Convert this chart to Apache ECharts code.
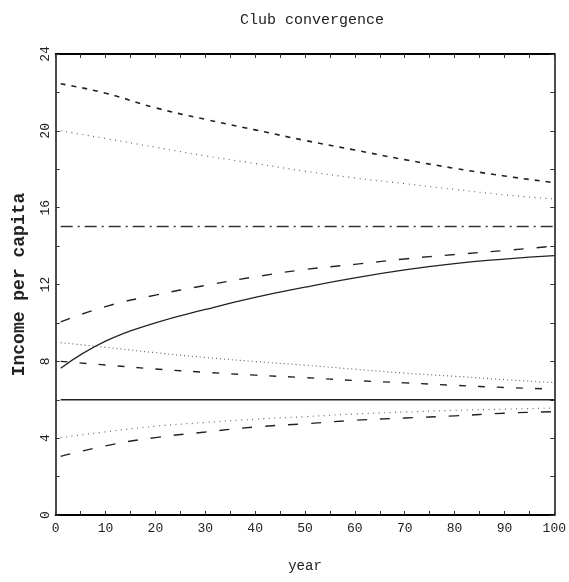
<!DOCTYPE html>
<html>
<head>
<meta charset="utf-8">
<script src="https://cdn.jsdelivr.net/npm/echarts@6/dist/echarts.min.js"></script>
<style>html,body{margin:0;padding:0;background:#fff}#c{width:569px;height:582px}</style>
</head>
<body>
<div id="c"></div>
<script>
var years = [1, 10, 20, 30, 40, 50, 60, 70, 80, 90, 100];
var upperDashed   = [22.45, 21.96, 21.2, 20.6, 20.05, 19.5, 19.0, 18.5, 18.05, 17.65, 17.3];
var upperDotted   = [20.0, 19.6, 19.15, 18.7, 18.3, 17.9, 17.55, 17.25, 16.95, 16.67, 16.45];
var highSteady    = [15.02, 15.02, 15.02, 15.02, 15.02, 15.02, 15.02, 15.02, 15.02, 15.02, 15.02];
var longDashedUp  = [10.05, 10.85, 11.45, 11.95, 12.4, 12.78, 13.05, 13.33, 13.56, 13.77, 14.0];
var solidCurve    = [7.64, 9.05, 10.0, 10.7, 11.33, 11.86, 12.34, 12.76, 13.09, 13.32, 13.5];
var midDotted     = [8.97, 8.73, 8.45, 8.2, 7.99, 7.8, 7.59, 7.39, 7.22, 7.05, 6.89];
var midDashed     = [8.0, 7.81, 7.6, 7.43, 7.28, 7.15, 7.0, 6.88, 6.75, 6.64, 6.55];
var lowSteady     = [6.0, 6.0, 6.0, 6.0, 6.0, 6.0, 6.0, 6.0, 6.0, 6.0, 6.0];
var lowDotted     = [4.03, 4.33, 4.62, 4.82, 4.99, 5.12, 5.26, 5.36, 5.45, 5.51, 5.57];
var longDashedLow = [3.05, 3.6, 4.03, 4.32, 4.58, 4.75, 4.93, 5.05, 5.16, 5.3, 5.38];

function pts(vals){ return years.map(function(y,i){ return [y, vals[i]]; }); }
var FONT = 'Liberation Mono';

function mk(vals, color, width, type, smooth){
  return {type:'line', data: pts(vals), showSymbol:false, smooth: smooth, silent:true,
    xAxisIndex:0, yAxisIndex:0,
    lineStyle:{color:color, width:width, type:type}};
}

var chart = echarts.init(document.getElementById('c'), null, {renderer:'canvas'});
var axisLineX = {show:true, onZero:false, lineStyle:{color:'#000', width:2}};
var axisLineY = {show:true, onZero:false, lineStyle:{color:'#111', width:1.5}};
var tick = {show:true, inside:true, length:4, lineStyle:{color:'#333', width:1}};
chart.setOption({
  backgroundColor:'#fff',
  animation:false,
  title:{text:'Club convergence', left:307, top:8, textAlign:'center',
    textStyle:{fontFamily:FONT, fontSize:15, fontWeight:'normal', color:'#222'}},
  grid:{left:55.7, right:13, top:54, bottom:67},
  xAxis:[
    {type:'value', min:0, max:100, interval:5, position:'bottom',
     axisLine:axisLineX, axisTick:tick, splitLine:{show:false},
     axisLabel:{fontFamily:FONT, fontSize:13, color:'#222', margin:7,
       formatter:function(v){ return v%10===0 ? String(v) : ''; }},
     name:'year', nameLocation:'middle', nameGap:44,
     nameTextStyle:{fontFamily:FONT, fontSize:14, color:'#222'}},
    {type:'value', min:0, max:100, interval:5, position:'top',
     axisLine:axisLineX, axisTick:tick, axisLabel:{show:false}, splitLine:{show:false}}
  ],
  yAxis:[
    {type:'value', min:0, max:24, interval:2, position:'left',
     axisLine:axisLineY, axisTick:tick, splitLine:{show:false},
     axisLabel:{fontFamily:FONT, fontSize:13, color:'#222', rotate:90, margin:4,
       formatter:function(v){ return v%4===0 ? String(v) : ''; }},
     name:'Income per capita', nameLocation:'middle', nameGap:27,
     nameTextStyle:{fontFamily:FONT, fontSize:18, fontWeight:'bold', color:'#222'}},
    {type:'value', min:0, max:24, interval:2, position:'right',
     axisLine:axisLineY, axisTick:tick, axisLabel:{show:false}, splitLine:{show:false}}
  ],
  series:[
    mk(upperDashed, '#222', 1.6, [5,6], true),
    mk(upperDotted, '#666', 1.2, [1,4.5], true),
    mk(highSteady, '#333', 1.4, [12,5,2,5], false),
    mk(longDashedUp, '#222', 1.4, [10,13], true),
    mk(solidCurve, '#222', 1.3, 'solid', true),
    mk(midDotted, '#666', 1.2, [1,3], true),
    mk(midDashed, '#222', 1.4, [7,12], true),
    mk(lowSteady, '#222', 1.3, 'solid', false),
    mk(lowDotted, '#666', 1.2, [1,4.5], true),
    mk(longDashedLow, '#222', 1.4, [10,13], true)
  ]
});
</script>
</body>
</html>
